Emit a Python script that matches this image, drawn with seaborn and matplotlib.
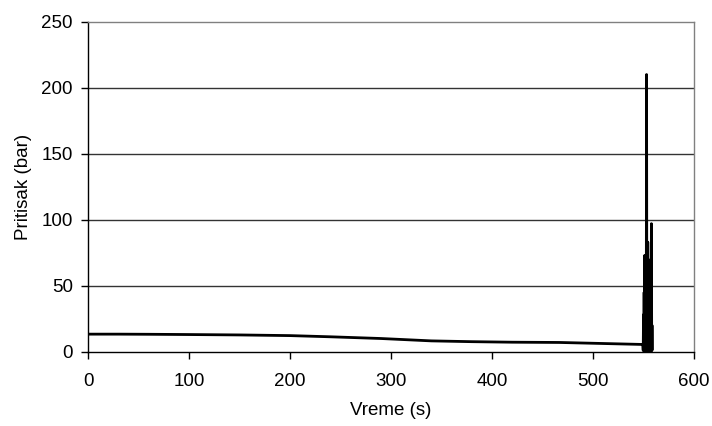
import matplotlib
matplotlib.use("Agg")
import matplotlib.pyplot as plt
import seaborn as sns
import pandas as pd

# pressure record: slow decline, then violent oscillation at the end
time_s = [0, 30, 60, 100, 150, 200, 240, 290, 340, 380, 420, 467, 500, 549,
          549.5, 549.8, 550.1, 550.4, 550.7, 551.0, 551.3, 551.6, 551.9, 552.2,
          552.5, 552.8, 553.1, 553.4, 553.7, 554.0, 554.3, 554.6, 554.9, 555.2,
          555.5, 555.8, 556.1, 556.4, 556.7, 557.0, 557.3, 557.6, 557.9, 558.2,
          558.5, 558.8]
pressure_bar = [13.3, 13.3, 13.2, 13.0, 12.7, 12.2, 11.3, 10.0, 8.2, 7.6, 7.2, 7.0, 6.4, 5.5,
                5.0, 1.0, 28, 0.8, 45, 0.5, 73, 0.6, 30, 0.4,
                62, 0.5, 210, 0.7, 58, 0.5, 83, 0.6, 40, 0.5,
                35, 0.8, 48, 0.4, 25, 0.6, 70, 0.5, 97, 0.9,
                20, 1.5]

df = pd.DataFrame({"Vreme": time_s, "Pritisak": pressure_bar})

sns.set_style("white")
plt.rcParams["font.family"] = ["Liberation Sans", "DejaVu Sans"]
plt.rcParams["text.color"] = "black"
plt.rcParams["axes.labelcolor"] = "black"

fig = plt.figure(figsize=(7.12, 4.26), dpi=100)
ax = fig.add_axes([0.1236, 0.1744, 0.851, 0.7746])

sns.lineplot(data=df, x="Vreme", y="Pritisak", sort=False, color="black",
             linewidth=2, ax=ax)

ax.set_xlim(0, 600)
ax.set_ylim(0, 250)
ax.set_xticks([0, 100, 200, 300, 400, 500, 600])
ax.set_yticks([0, 50, 100, 150, 200, 250])
ax.set_xlabel("Vreme (s)", fontsize=13.5, labelpad=9, color="black")
ax.set_ylabel("Pritisak (bar)", fontsize=13.5, labelpad=7, color="black")
ax.tick_params(axis="both", labelsize=13.5, direction="out", length=5,
               width=1, colors="black", bottom=True, left=True)
ax.tick_params(axis="x", pad=10)
ax.tick_params(axis="y", pad=6)

for v in [50, 100, 150, 200]:
    ax.axhline(v, color="#333333", linewidth=1, zorder=0)

ax.spines["left"].set_color("black")
ax.spines["bottom"].set_color("black")
ax.spines["top"].set_color("#808080")
ax.spines["right"].set_color("#808080")
for s in ax.spines.values():
    s.set_linewidth(1)

fig.savefig("out.png", dpi=100)
